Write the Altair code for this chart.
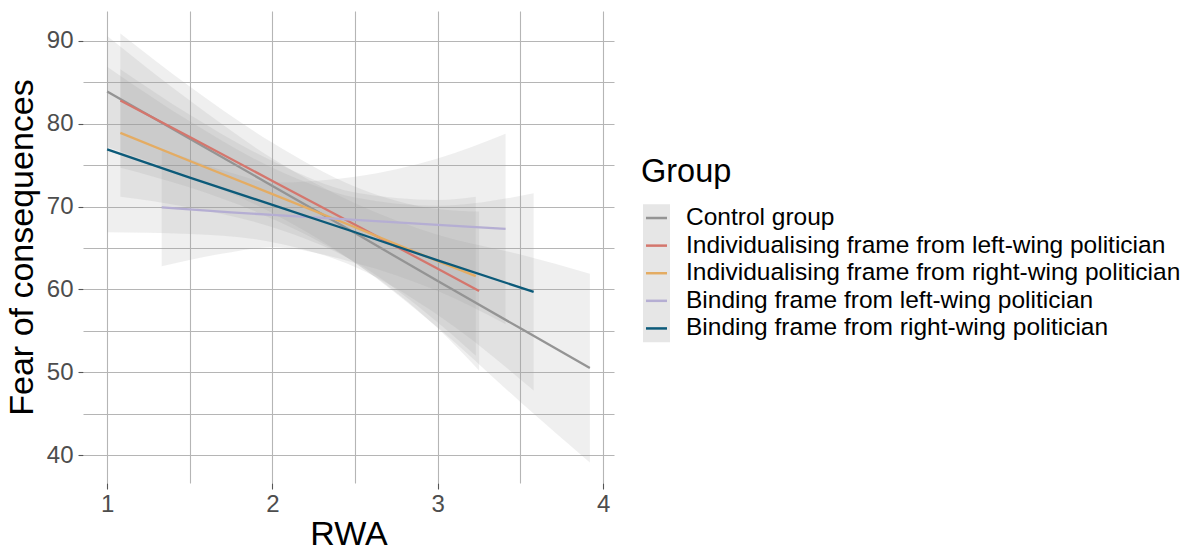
import altair as alt
import pandas as pd

# Groups, in legend order, and their line colours
groups = [
    "Control group",
    "Individualising frame from left-wing politician",
    "Individualising frame from right-wing politician",
    "Binding frame from left-wing politician",
    "Binding frame from right-wing politician",
]
palette = ["#949494", "#D4766D", "#E4AC63", "#B5AED3", "#0C5A79"]

# Fitted values (fit) with 95% band (lo, hi) at RWA positions (x), per group
control_x = [1.00, 1.50, 2.00, 2.50, 3.00, 3.50, 3.92]
control_fit = [83.9, 78.2, 72.5, 66.8, 61.0, 55.3, 50.5]
control_lo = [77.2, 73.6, 69.2, 63.2, 55.4, 46.4, 39.1]
control_hi = [90.6, 82.8, 75.8, 70.4, 66.6, 64.2, 61.9]

indiv_left_x = [1.08, 1.50, 2.00, 2.50, 3.00, 3.25]
indiv_left_fit = [82.8, 78.4, 73.1, 67.8, 62.5, 59.8]
indiv_left_lo = [74.7, 72.3, 68.5, 63.2, 55.3, 50.2]
indiv_left_hi = [90.9, 84.5, 77.7, 72.4, 69.7, 69.4]

indiv_right_x = [1.08, 1.50, 2.00, 2.50, 3.00, 3.23]
indiv_right_fit = [78.9, 75.5, 71.5, 67.5, 63.4, 61.6]
indiv_right_lo = [71.2, 69.9, 67.5, 63.3, 56.0, 52.0]
indiv_right_hi = [86.6, 81.1, 75.5, 71.7, 70.8, 71.2]

binding_left_x = [1.33, 1.75, 2.00, 2.50, 3.00, 3.41]
binding_left_fit = [69.9, 69.3, 69.0, 68.4, 67.8, 67.3]
binding_left_lo = [62.8, 64.5, 65.1, 63.2, 59.8, 55.8]
binding_left_hi = [77.0, 74.1, 72.9, 73.6, 75.8, 78.8]

binding_right_x = [1.00, 1.50, 2.00, 2.50, 3.00, 3.58]
binding_right_fit = [76.9, 73.5, 70.2, 66.9, 63.5, 59.7]
binding_right_lo = [66.9, 66.7, 65.7, 62.7, 56.9, 47.8]
binding_right_hi = [86.9, 80.3, 74.7, 71.1, 70.1, 71.6]

# Axis ticks: labelled majors plus unlabelled minor grid positions
x_ticks = [1, 1.5, 2, 2.5, 3, 3.5, 4]
y_ticks = [40, 45, 50, 55, 60, 65, 70, 75, 80, 85, 90]

series = [
    (groups[0], control_x, control_fit, control_lo, control_hi),
    (groups[1], indiv_left_x, indiv_left_fit, indiv_left_lo, indiv_left_hi),
    (groups[2], indiv_right_x, indiv_right_fit, indiv_right_lo, indiv_right_hi),
    (groups[3], binding_left_x, binding_left_fit, binding_left_lo, binding_left_hi),
    (groups[4], binding_right_x, binding_right_fit, binding_right_lo, binding_right_hi),
]
rows = []
for g, xs, fit, lo, hi in series:
    for x, f, l, h in zip(xs, fit, lo, hi):
        rows.append({"Group": g, "RWA": x, "fit": f, "lo": l, "hi": h})
df = pd.DataFrame(rows)

FONT = "Liberation Sans"
GRID = "#B5B5B5"
TICK = "#555555"
LABEL = "#4D4D4D"

x_scale = alt.Scale(domain=[0.854, 4.066], nice=False, zero=False)
y_scale = alt.Scale(domain=[36.62, 93.62], nice=False, zero=False)
color_scale = alt.Scale(domain=groups, range=palette)

x_axis = alt.Axis(
    values=x_ticks,
    labelExpr="datum.value % 1 ? '' : format(datum.value, 'd')",
    grid=True, gridColor=GRID, gridWidth=1.1,
    domain=False,
    tickSize=6, tickWidth=1.1,
    tickColor={"condition": {"test": "datum.value % 1 !== 0", "value": "transparent"}, "value": TICK},
    labelFontSize=24, labelColor=LABEL, labelPadding=3, labelFont=FONT,
    title="RWA", titleFontSize=34, titleFontWeight="normal", titleColor="black",
    titleFont=FONT, titlePadding=1,
)
y_axis = alt.Axis(
    values=y_ticks,
    labelExpr="datum.value % 10 ? '' : format(datum.value, 'd')",
    grid=True, gridColor=GRID, gridWidth=1.1,
    domain=False,
    tickSize=5, tickWidth=1.1,
    tickColor={"condition": {"test": "datum.value % 10 !== 0", "value": "transparent"}, "value": TICK},
    labelFontSize=24, labelColor=LABEL, labelPadding=5, labelFont=FONT,
    title="Fear of consequences", titleFontSize=34, titleFontWeight="normal",
    titleColor="black", titleFont=FONT, titlePadding=7,
)

base = alt.Chart(df)

bands = base.mark_area(color="#999999", opacity=0.16, interpolate="monotone").encode(
    x=alt.X("RWA:Q", scale=x_scale, axis=x_axis),
    y=alt.Y("lo:Q", scale=y_scale, axis=y_axis),
    y2="hi:Q",
    detail="Group:N",
)

lines = base.mark_line(strokeWidth=2.3).encode(
    x=alt.X("RWA:Q", scale=x_scale),
    y=alt.Y("fit:Q", scale=y_scale),
    color=alt.Color("Group:N", scale=color_scale, legend=None),
)

main = alt.layer(bands, lines).properties(width=531, height=472)

# Legend panel: shaded key column, coloured key lines and group labels
key_df = pd.DataFrame({"Group": groups, "idx": list(range(len(groups)))})
key_bg_df = pd.DataFrame({"lo": [-0.5], "hi": [len(groups) - 0.5]})
key_y = alt.Scale(domain=[-7.5, 9.6], reverse=True, nice=False, zero=False)

key_bg = alt.Chart(key_bg_df).mark_rect(color="#E6E6E6").encode(
    x=alt.value(0), x2=alt.value(27),
    y=alt.Y("lo:Q", scale=key_y, axis=None), y2="hi:Q",
)
key_lines = alt.Chart(key_df).mark_rule(strokeWidth=2.5).encode(
    x=alt.value(3), x2=alt.value(24),
    y=alt.Y("idx:Q", scale=key_y, axis=None),
    color=alt.Color("Group:N", scale=color_scale, legend=None),
)
key_text = alt.Chart(key_df).mark_text(
    align="left", baseline="middle", fontSize=24.5, font=FONT, color="black"
).encode(
    x=alt.value(43),
    y=alt.Y("idx:Q", scale=key_y, axis=None),
    text="Group:N",
)
key_title = alt.Chart(pd.DataFrame({"t": ["Group"]})).mark_text(
    align="left", baseline="middle", fontSize=32.5, font=FONT, color="black"
).encode(x=alt.value(-2), y=alt.value(161), text="t:N")

legend = alt.layer(key_bg, key_lines, key_text, key_title).properties(width=540, height=472)

chart = (
    alt.hconcat(main, legend, spacing=27)
    .properties(padding={"left": 5, "top": 11, "right": 5, "bottom": 0})
    .configure(font=FONT)
    .configure_view(stroke="transparent", strokeWidth=0)
)

chart.save("out.html", embed_options={"renderer": "svg", "actions": False})
